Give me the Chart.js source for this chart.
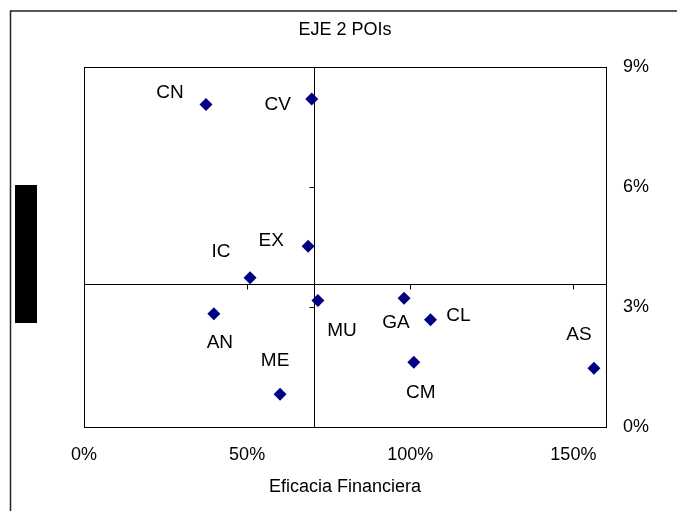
<!DOCTYPE html>
<html>
<head>
<meta charset="utf-8">
<script src="https://cdn.jsdelivr.net/npm/chart.js@4.4.1/dist/chart.umd.min.js"></script>
<style>
  html, body { margin: 0; padding: 0; background: #fff; }
  #wrap { width: 677px; height: 511px; position: relative; }
</style>
</head>
<body>
<div id="wrap"><canvas id="quadChart" width="677" height="511"></canvas></div>
<script>
// regions (labels) with x = eficacia financiera, y = right axis value
const regions = ['CN', 'CV', 'EX', 'IC', 'AN', 'MU', 'GA', 'CL', 'CM', 'AS', 'ME'];
const eficaciaFinanciera = [0.374, 0.698, 0.687, 0.509, 0.398, 0.717, 0.981, 1.062, 1.011, 1.563, 0.601];
const ejeValues = [0.0806, 0.0820, 0.0452, 0.0373, 0.0283, 0.0316, 0.0322, 0.0268, 0.0162, 0.0147, 0.0082];

const xTickValues = [0, 0.5, 1.0, 1.5];
const yTickValues = [0, 0.03, 0.06, 0.09];
const crossX = 0.705;   // where the vertical axis crosses
const crossY = 0.0357;  // where the horizontal axis crosses

// where each label sits relative to its marker (px)
const labelOffsets = [[-36, -12], [-34, 6], [-37, -5], [-29, -26], [6, 29], [24, 30],
                      [-8, 25], [28, -4], [7, 31], [-15, -33], [-5, -33]];

const pct = v => Math.round(v * 100) + '%';

const frame = {
    id: 'frame',
    beforeDraw(chart) {
        const c = chart.ctx;
        c.save();
        c.fillStyle = '#fff';
        c.fillRect(0, 0, chart.width, chart.height);
        // outer border
        c.strokeStyle = '#222';
        c.lineWidth = 1.5;
        c.beginPath();
        c.moveTo(10.5, chart.height);
        c.lineTo(10.5, 11);
        c.lineTo(chart.width, 11);
        c.stroke();
        // the black block on the left
        c.fillStyle = '#000';
        c.fillRect(15, 185, 22, 138);
        c.restore();
    },
    beforeDatasetsDraw(chart) {
        const c = chart.ctx;
        const a = chart.chartArea;
        const xs = chart.scales.x, ys = chart.scales.y;
        const vx = Math.round(xs.getPixelForValue(crossX)) + 0.5;
        const hy = Math.round(ys.getPixelForValue(crossY)) + 0.5;
        c.save();
        c.strokeStyle = '#000';
        c.lineWidth = 1;
        c.strokeRect(a.left + 0.5, a.top + 0.5, a.right - a.left, a.bottom - a.top);
        c.beginPath();
        c.moveTo(vx, a.top);
        c.lineTo(vx, a.bottom);
        c.moveTo(a.left, hy);
        c.lineTo(a.right, hy);
        yTickValues.forEach(v => {
            const y = Math.round(ys.getPixelForValue(v)) + 0.5;
            c.moveTo(vx - 5, y);
            c.lineTo(vx, y);
        });
        xTickValues.forEach(v => {
            const x = Math.round(xs.getPixelForValue(v)) + 0.5;
            c.moveTo(x, hy);
            c.lineTo(x, hy + 5);
        });
        c.stroke();
        c.restore();
    },
    afterDatasetsDraw(chart) {
        const c = chart.ctx;
        const pts = chart.getDatasetMeta(0).data;
        c.save();
        c.fillStyle = '#000';
        c.font = '19px "Liberation Sans", Arial, sans-serif';
        c.textAlign = 'center';
        c.textBaseline = 'middle';
        pts.forEach((p, i) => {
            c.fillText(regions[i], p.x + labelOffsets[i][0], p.y + labelOffsets[i][1]);
        });
        c.restore();
    }
};

const ctx = document.getElementById('quadChart').getContext('2d');

const quadChart = new Chart(ctx, {
    type: 'scatter',
    data: {
        datasets: [{
            data: regions.map((r, i) => ({ x: eficaciaFinanciera[i], y: ejeValues[i] })),
            pointStyle: 'rectRot',
            pointRadius: 6.5,
            backgroundColor: '#000080',
            borderColor: '#000080',
            borderWidth: 0,
        }],
    },
    options: {
        responsive: false,
        animation: false,
        layout: { padding: { left: 84, top: 0, right: 0, bottom: 0 } },
        plugins: {
            legend: { display: false },
            tooltip: { enabled: false },
            title: {
                display: true,
                text: 'EJE 2 POIs',
                fullSize: false,
                color: '#000',
                font: { family: '"Liberation Sans", Arial, sans-serif', size: 18, weight: 'normal' },
                padding: { top: 19.7, bottom: 25.7 },
            },
        },
        scales: {
            x: {
                type: 'linear',
                position: 'bottom',
                min: 0,
                max: 1.6,
                grid: { display: false, drawTicks: false },
                border: { display: false },
                afterBuildTicks: s => { s.ticks = xTickValues.map(v => ({ value: v })); },
                afterFit: s => { s.height = 84; },
                ticks: {
                    padding: 17,
                    color: '#000',
                    maxRotation: 0,
                    font: { family: '"Liberation Sans", Arial, sans-serif', size: 18 },
                    callback: v => pct(v),
                },
                title: {
                    display: true,
                    text: 'Eficacia Financiera',
                    color: '#000',
                    font: { family: '"Liberation Sans", Arial, sans-serif', size: 18 },
                    padding: { top: 0, bottom: 13 },
                },
            },
            y: {
                type: 'linear',
                position: 'right',
                min: 0,
                max: 0.09,
                grid: { display: false, drawTicks: false },
                border: { display: false },
                afterBuildTicks: s => { s.ticks = yTickValues.map(v => ({ value: v })); },
                afterFit: s => { s.width = 71; },
                ticks: {
                    padding: 17,
                    color: '#000',
                    font: { family: '"Liberation Sans", Arial, sans-serif', size: 18 },
                    callback: v => pct(v),
                },
            },
        },
    },
    plugins: [frame],
});
</script>
</body>
</html>
